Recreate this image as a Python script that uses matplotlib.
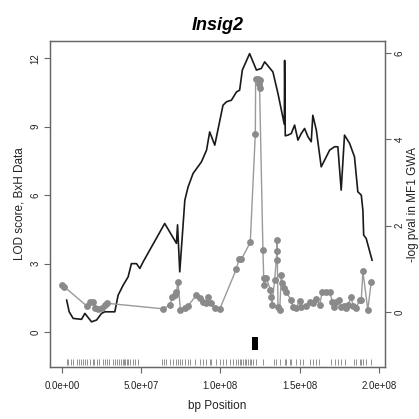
import matplotlib
matplotlib.use("Agg")
import matplotlib.pyplot as plt
import matplotlib.transforms as mtransforms

plt.rcParams['font.family'] = ['Liberation Sans', 'DejaVu Sans']

# LOD score, BxH data (positions in Mb)
lod_mb = [3.0, 4.6, 7.1, 12.4, 14.5, 18.7, 21.9, 25.0, 27.1, 33.4, 35.5, 38.7, 41.8, 43.9,
          47.1, 49.2, 51.3, 64.9, 72.3, 73.0, 74.4, 77.6, 79.7, 82.8, 88.1, 91.3, 93.3,
          96.5, 101.7, 103.9, 107.0, 110.2, 112.2, 113.9, 118.5, 122.8, 125.9, 128.0,
          133.2, 136.4, 140.4, 140.6, 141.0, 142.7, 144.8, 146.9, 149.0, 151.1, 153.2,
          155.3, 157.4, 158.4, 160.6, 163.7, 165.8, 169.0, 172.1, 174.2, 176.3, 178.4,
          181.6, 184.7, 186.8, 189.0, 190.0, 190.5, 192.1, 195.8]
lod = [1.40, 0.89, 0.60, 0.56, 0.82, 0.45, 0.53, 0.82, 0.89, 0.89, 1.62, 2.06, 2.42, 3.00,
       3.00, 2.79, 3.08, 4.76, 3.89, 4.70, 2.64, 5.78, 6.37, 6.95, 7.46, 7.97, 8.77,
       8.19, 9.94, 10.09, 10.16, 10.52, 10.60, 11.48, 12.20, 11.48, 11.55, 11.84,
       11.40, 10.45, 9.10, 11.90, 8.60, 8.63, 8.70, 9.07, 8.41, 8.70, 8.92,
       8.56, 8.34, 9.50, 8.85, 7.24, 7.53, 7.97, 8.12, 8.12, 6.22, 8.63,
       8.27, 7.68, 6.15, 6.00, 5.34, 4.25, 4.10, 3.15]

# -log pval, MF1 GWA
gwa_mb = [0.2, 1.5, 15.6, 17.7, 19.7, 20.8, 22.9, 25.0, 27.1, 28.2,
          63.9, 68.1, 69.8, 71.2, 72.3, 73.3, 74.8, 77.6, 79.7, 84.9,
          87.0, 89.1, 91.2, 92.2, 94.4, 96.5, 99.6, 110.1, 111.8, 113.3,
          118.9, 122.1, 122.3, 123.7, 124.8, 124.2, 124.8, 126.9, 127.4, 127.4,
          129.1, 131.6, 132.2, 132.6, 134.3, 135.8, 135.8, 136.0, 136.4, 137.5,
          138.5, 139.2, 140.0, 141.2, 144.8, 145.8, 148.0, 150.1, 151.1, 154.3,
          156.4, 158.4, 160.6, 162.7, 164.4, 166.5, 169.0, 170.7, 171.5, 173.2,
          174.8, 176.3, 177.8, 179.5, 180.5, 182.7, 183.7, 185.8, 187.9, 189.0,
          190.0, 193.1, 195.3]
gwa = [0.62, 0.58, 0.14, 0.23, 0.23, 0.09, 0.06, 0.08, 0.16, 0.20,
       0.07, 0.16, 0.34, 0.39, 0.47, 0.70, 0.05, 0.09, 0.14, 0.39,
       0.32, 0.24, 0.20, 0.34, 0.20, 0.09, 0.06, 0.99, 1.22, 1.22,
       1.61, 4.13, 5.40, 5.40, 5.38, 5.29, 5.19, 1.44, 0.78, 0.63,
       0.78, 0.51, 0.34, 0.16, 0.74, 1.40, 1.67, 1.21, 0.12, 0.05,
       0.86, 0.67, 0.55, 0.47, 0.28, 0.12, 0.09, 0.26, 0.11, 0.14,
       0.24, 0.20, 0.29, 0.16, 0.47, 0.47, 0.47, 0.24, 0.12, 0.24,
       0.28, 0.12, 0.14, 0.09, 0.16, 0.34, 0.14, 0.09, 0.28, 0.28,
       0.94, 0.05, 0.70]

# marker positions (rug), Mb
rug_mb = [3.0, 4.0, 5.5, 6.7, 9.6, 10.7, 11.8, 13.1, 14.5, 16.0, 17.7, 19.4, 20.2, 22.3,
          23.5, 25.7, 27.1, 28.6, 29.8, 32.0, 33.4, 34.9, 36.1, 37.0, 38.3, 39.1, 39.7,
          40.8, 41.8, 42.9, 45.0, 46.1, 48.1, 62.9, 64.3, 66.0, 68.1, 70.2, 72.3, 73.3,
          74.4, 76.1, 77.6, 79.6, 80.7, 83.9, 87.0, 89.1, 91.2, 93.3, 94.4, 97.5, 99.6,
          101.7, 103.8, 105.9, 108.0, 110.1, 111.2, 112.2, 113.3, 114.3, 115.4, 116.5,
          117.5, 118.6, 119.6, 120.7, 122.8, 127.0, 133.7, 135.0, 137.5, 140.6, 141.7,
          143.8, 144.8, 148.0, 150.1, 152.2, 156.4, 158.4, 160.6, 162.6, 170.0, 172.1,
          174.2, 176.3, 178.4, 184.7, 185.8, 187.9, 189.0, 190.0, 192.1, 195.3]

# Insig2 gene location, Mb
gene_start_mb, gene_end_mb = 120.2, 123.8

x_ticks = [0, 5e7, 1e8, 1.5e8, 2e8]
x_tick_labels = ["0.0e+00", "5.0e+07", "1.0e+08", "1.5e+08", "2.0e+08"]
lod_ticks = [0, 3, 6, 9, 12]
gwa_ticks = [0, 2, 4, 6]

MB = 1e6
axis_col = '#666666'

fig = plt.figure(figsize=(4.19, 4.19), dpi=100)
ax = fig.add_axes([0.119, 0.124, 0.8, 0.778])
ax2 = ax.twinx()

ax.plot([v * MB for v in lod_mb], lod, color='#1a1a1a', lw=1.2, zorder=3)
ax2.plot([v * MB for v in gwa_mb], gwa, color='#9a9a9a', lw=1.0,
         marker='o', ms=3.9, mfc='#8a8a8a', mec='#8a8a8a', zorder=2)

# rug along bottom
trans = mtransforms.blended_transform_factory(ax.transData, ax.transAxes)
ax.vlines([v * MB for v in rug_mb], 0.006, 0.024, transform=trans,
          color='#666666', lw=0.5)

# gene bar
ax.bar((gene_start_mb + gene_end_mb) / 2 * MB, 0.58, bottom=-0.79,
       width=(gene_end_mb - gene_start_mb) * MB, color='black', zorder=4)

ax.set_xlim(-7.6e6, 2.04e8)
ax.set_ylim(-1.53, 12.75)
ax2.set_ylim(-1.28, 6.28)

ax.set_xticks(x_ticks)
ax.set_xticklabels(x_tick_labels)
ax.set_yticks(lod_ticks)
ax.set_yticklabels([str(t) for t in lod_ticks], rotation=90, va='center')
ax2.set_yticks(gwa_ticks)
ax2.set_yticklabels([str(t) for t in gwa_ticks], rotation=90, va='center')

for a in (ax, ax2):
    for s in a.spines.values():
        s.set_color(axis_col)
        s.set_linewidth(0.9)
    a.tick_params(direction='out', length=4.3, width=0.8, color=axis_col,
                  labelsize=7, labelcolor='#222222')
ax.tick_params(axis='x', pad=5.5)
ax.tick_params(axis='y', pad=2.5)
ax2.tick_params(axis='y', pad=2.5)

ax.set_xlabel("bp Position", fontsize=8.5, labelpad=7, color='#222222')
ax.set_ylabel("LOD score, BxH Data", fontsize=8.5, labelpad=3.5, color='#222222')
ax2.set_ylabel("-log pval in MF1 GWA", fontsize=8.5, labelpad=1.5, color='#222222')
ax.set_title("Insig2", fontsize=13, fontweight='bold', fontstyle='italic', pad=8)

fig.savefig("out.png", dpi=100)
